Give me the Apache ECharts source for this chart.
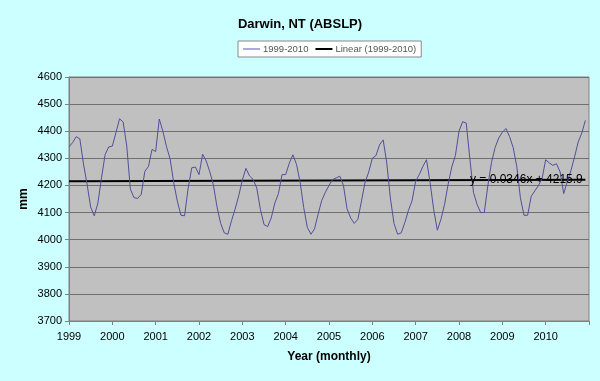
<!DOCTYPE html>
<html><head><meta charset="utf-8">
<script src="https://cdn.jsdelivr.net/npm/echarts@6/dist/echarts.min.js"></script>
<style>html,body{margin:0;padding:0;background:#CCFFFF;}#c{width:600px;height:381px;}</style>
</head><body><div id="c"></div>
<script>
// Monthly values, Jan 1999 .. Dec 2010
const values1999 = [4342,4358,4380,4372,4280,4205,4120,4088,4135,4228,4314,4342];
const values2000 = [4345,4395,4446,4434,4345,4186,4155,4152,4167,4252,4270,4333];
const values2001 = [4325,4445,4400,4343,4298,4210,4142,4090,4088,4190,4265,4268];
const values2002 = [4240,4315,4290,4250,4200,4120,4060,4025,4020,4070,4113,4162];
const values2003 = [4220,4263,4235,4222,4190,4112,4056,4048,4080,4135,4170,4240];
const values2004 = [4240,4282,4313,4278,4212,4118,4045,4020,4040,4095,4145,4175];
const values2005 = [4200,4222,4228,4234,4200,4114,4080,4060,4075,4143,4212,4250];
const values2006 = [4300,4310,4350,4368,4283,4153,4060,4020,4025,4063,4108,4143];
const values2007 = [4216,4240,4270,4295,4210,4110,4035,4075,4130,4205,4268,4310];
const values2008 = [4400,4435,4430,4300,4175,4130,4100,4100,4200,4285,4340,4375];
const values2009 = [4396,4410,4380,4340,4270,4155,4090,4090,4160,4180,4200,4225];
const values2010 = [4295,4283,4274,4280,4250,4170,4215,4255,4305,4360,4393,4440];
const startYear = 1999;
const yearLabels = ['1999','2000','2001','2002','2003','2004','2005','2006','2007','2008','2009','2010'];
// Linear trend (Excel): y = 0.0346x + 4215.9, endpoints
const trendStart = 4215.9;
const trendEnd = 4220.9;
const trendText = 'y = 0.0346x + 4215.9';

const all = [].concat(values1999,values2000,values2001,values2002,values2003,values2004,
  values2005,values2006,values2007,values2008,values2009,values2010);
const seriesData = all.map((v,i)=>[startYear + i/12, v]);
const trendData = [[startYear, trendStart],[startYear + (all.length-1)/12, trendEnd]];

const chart = echarts.init(document.getElementById('c'), null, {renderer:'canvas'});
const F = '"Liberation Sans", Arial, sans-serif';
chart.setOption({
  backgroundColor:'#CCFFFF',
  animation:false,
  title:{text:'Darwin, NT (ABSLP)', left:'center', top:13,
    textStyle:{fontFamily:F, fontSize:13, fontWeight:'bold', color:'#000'}},
  legend:{left:238, top:41, padding:[3,5,3,5], itemGap:7, itemWidth:17, itemHeight:2,
    backgroundColor:'#FFFFFF', borderColor:'#888', borderWidth:1, borderRadius:0,
    textStyle:{fontFamily:F, fontSize:9.5, color:'#555', padding:[0,0,0,-2]},
    data:[{name:'1999-2010', icon:'rect', itemStyle:{color:'#AAAADD'}},
          {name:'Linear (1999-2010)', icon:'rect', itemStyle:{color:'#000'}}]},
  grid:{left:69, right:11, top:77, bottom:60, show:true, backgroundColor:'#C0C0C0',
    borderColor:'#808080', borderWidth:1},
  xAxis:{type:'value', min:1999, max:2011, interval:1,
    name:'Year (monthly)', nameLocation:'middle', nameGap:30,
    nameTextStyle:{fontFamily:F, fontSize:12, fontWeight:'bold', color:'#000'},
    axisLine:{show:true, lineStyle:{color:'#808080'}},
    axisTick:{show:true, length:4, lineStyle:{color:'#808080'}},
    axisLabel:{fontFamily:F, fontSize:11, color:'#000', margin:10,
      formatter:(v)=>{const k=Math.round(v)-startYear; return yearLabels[k]||'';}},
    splitLine:{show:false}},
  yAxis:{type:'value', min:3700, max:4600, interval:100,
    name:'mm', nameLocation:'middle', nameGap:39, nameRotate:90, nameMoveOverlap:false,
    nameTextStyle:{fontFamily:F, fontSize:12, fontWeight:'bold', color:'#000'},
    axisLine:{show:true, lineStyle:{color:'#808080'}},
    axisTick:{show:true, length:4, lineStyle:{color:'#808080'}},
    axisLabel:{fontFamily:F, fontSize:11, color:'#000', margin:7,
      formatter:(v)=>String(v)},
    splitLine:{show:true, lineStyle:{color:'#707070', width:1}}},
  series:[
    {name:'1999-2010', type:'line', data:seriesData, showSymbol:false, symbol:'none',
      lineStyle:{color:'#50509A', width:1}, itemStyle:{color:'#AAAADD'}, z:3},
    {name:'Linear (1999-2010)', type:'line', data:trendData, showSymbol:false, symbol:'none',
      lineStyle:{color:'#000', width:2}, itemStyle:{color:'#000'}, z:2}
  ],
  graphic:[{type:'text', left:470, top:174, z:10,
    style:{text:trendText, font:'12px '+F, fill:'#000'}}]
});
</script></body></html>
